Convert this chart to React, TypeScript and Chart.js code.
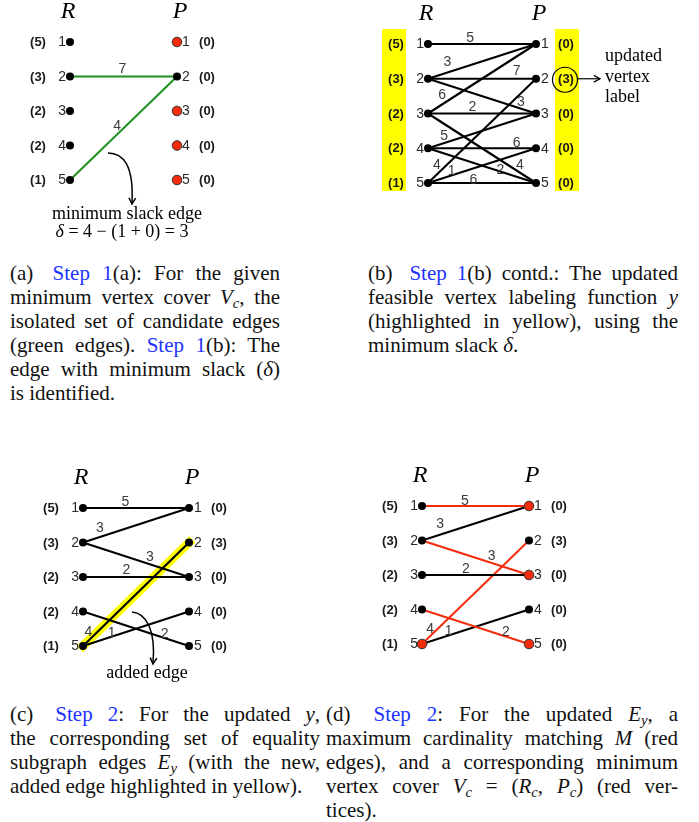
import React, { useEffect, useRef } from "react";
import { Chart, registerables } from "chart.js";

Chart.register(...registerables);

// ---------------- data ----------------
const vertexIds = [1, 2, 3, 4, 5];
const rLabels = [5, 3, 2, 2, 1];
const pLabelsInitial = [0, 0, 0, 0, 0];
const pLabelsUpdated = [0, 3, 0, 0, 0];

// edges: [R vertex, P vertex, weight]
const edgesA = [
  [2, 2, 7],
  [5, 2, 4],
];
const edgesB = [
  [1, 1, 5],
  [2, 1, 3],
  [2, 2, 7],
  [2, 3, 3],
  [3, 1, 6],
  [3, 3, 2],
  [3, 5, 4],
  [4, 3, 5],
  [4, 4, 6],
  [4, 5, 2],
  [5, 2, 4],
  [5, 4, 1],
  [5, 5, 6],
];
const edgesC = [
  [1, 1, 5],
  [2, 1, 3],
  [2, 3, 3],
  [3, 3, 2],
  [4, 5, 2],
  [5, 4, 1],
  [5, 2, 4],
];
const edgesD = [
  [1, 1, 5],
  [2, 1, 3],
  [2, 3, 3],
  [3, 3, 2],
  [4, 5, 2],
  [5, 4, 1],
  [5, 2, 4],
];
const addedEdgeC = [5, 2];
const matchingD = [
  [1, 1],
  [2, 3],
  [4, 5],
  [5, 2],
];
const coverA_R: number[] = [];
const coverA_P = [1, 3, 4, 5];
const coverD_R = [5];
const coverD_P = [1, 3, 5];

// ---------------- label placement (t along edge, dy px) ----------------
const placeA = [
  [0.49, -7],
  [0.44, -8],
];
const placeB = [
  [0.39, -6],
  [0.18, -10],
  [0.82, -8],
  [0.86, -6],
  [0.13, -9],
  [0.41, -6],
  [0.85, -7],
  [0.15, -7],
  [0.82, -5],
  [0.67, -1],
  [0.083, -9],
  [0.22, -4],
  [0.42, -3],
];
const placeC = [
  [0.4, -6],
  [0.16, -9],
  [0.63, -7],
  [0.41, -7],
  [0.77, -4],
  [0.27, -4],
  [0.05, -9],
];
const placeD = [
  [0.4, -5],
  [0.17, -10],
  [0.65, -7],
  [0.41, -6],
  [0.785, -4],
  [0.25, -4],
  [0.075, -7],
];

// ---------------- styles ----------------
const BLACK = "#000000";
const RED = "#f52c0c";
const GREEN = "#1f8f1f";
const YELLOW = "#ffff00";
const TXT = "#2a2a2a";
const SANS = "'Liberation Sans', Arial, sans-serif";
const SERIF = "'Liberation Serif', 'Times New Roman', serif";
const LINK = "#2233ff";

const panelA = {
  box: { x: 0, y: 0, w: 345, h: 245 },
  rPx: 70, pPx: 177, row1: 42, row5: 180,
  edges: edgesA, place: placeA, pLabels: pLabelsInitial,
  edgeColor: () => GREEN, edgeWidth: 2,
  redR: coverA_R, redP: coverA_P,
  curves: [{ from: [0.355, 4.217], c1: [0.495, 4.217], c2: [0.598, 4.565], to: [0.579, 5.667] }],
  texts: [
    { at: [0.533, 5.986], parts: [{ t: "minimum slack edge" }] },
    { at: [0.486, 6.507], parts: [{ t: "δ", it: true }, { t: " = 4 − (1 + 0) = 3" }] },
  ],
};
const panelB = {
  box: { x: 350, y: 0, w: 349, h: 245 },
  rPx: 428, pPx: 536, row1: 44, row5: 183,
  edges: edgesB, place: placeB, pLabels: pLabelsUpdated,
  edgeColor: () => BLACK, edgeWidth: 2.1,
  redR: [], redP: [],
  bands: [
    { side: "R", x0: -46, x1: -22, top: -15, bottom: 8 },
    { side: "P", x0: 19, x1: 43, top: -15, bottom: 8 },
  ],
  callout: { row: 2, cx: 29, cy: 1, r: 12.5, a0: 42, a1: 64, tx: 69, lines: [["updated", -18], ["vertex", 3], ["label", 23]] },
};
const panelC = {
  box: { x: 0, y: 455, w: 345, h: 235 },
  rPx: 83, pPx: 189, row1: 508, row5: 646,
  edges: edgesC, place: placeC, pLabels: pLabelsUpdated,
  edgeColor: () => BLACK, edgeWidth: 2.1,
  redR: [], redP: [],
  highlight: addedEdgeC,
  curves: [{ from: [0.462, 4.014], c1: [0.594, 4.043], c2: [0.689, 4.536], to: [0.66, 5.493] }],
  texts: [{ at: [0.604, 5.783], parts: [{ t: "added edge" }] }],
};
const panelD = {
  box: { x: 350, y: 455, w: 349, h: 235 },
  rPx: 422, pPx: 529, row1: 506, row5: 644,
  edges: edgesD, place: placeD, pLabels: pLabelsUpdated,
  edgeColor: (r: number, p: number) => (matchingD.some((m) => m[0] === r && m[1] === p) ? RED : BLACK),
  edgeWidth: 2,
  redR: coverD_R, redP: coverD_P,
};

function arrowHead(ctx: CanvasRenderingContext2D, tx: number, ty: number, fx: number, fy: number) {
  const ang = Math.atan2(ty - fy, tx - fx);
  const len = 7;
  const sp = 0.5;
  ctx.beginPath();
  ctx.moveTo(tx - len * Math.cos(ang - sp), ty - len * Math.sin(ang - sp));
  ctx.lineTo(tx, ty);
  ctx.lineTo(tx - len * Math.cos(ang + sp), ty - len * Math.sin(ang + sp));
  ctx.stroke();
}

function makeDecor(p: any) {
  return {
    id: "graphDecor",
    beforeDatasetsDraw(chart: any) {
      const ctx = chart.ctx;
      const xs = chart.scales.x;
      const ys = chart.scales.y;
      const R = xs.getPixelForValue(0);
      const P = xs.getPixelForValue(1);
      const y1 = ys.getPixelForValue(1);
      const y5 = ys.getPixelForValue(5);
      ctx.save();
      (p.bands || []).forEach((b: any) => {
        const base = b.side === "R" ? R : P;
        ctx.fillStyle = YELLOW;
        ctx.fillRect(base + b.x0, y1 + b.top, b.x1 - b.x0, y5 + b.bottom - (y1 + b.top));
      });
      ctx.restore();
    },
    afterDatasetsDraw(chart: any) {
      const ctx: CanvasRenderingContext2D = chart.ctx;
      const xs = chart.scales.x;
      const ys = chart.scales.y;
      const R = xs.getPixelForValue(0);
      const P = xs.getPixelForValue(1);
      const y1 = ys.getPixelForValue(1);
      const U = (ux: number, uy: number) => [xs.getPixelForValue(ux), ys.getPixelForValue(uy)];
      ctx.save();
      ctx.textBaseline = "middle";
      ctx.textAlign = "center";
      ctx.fillStyle = BLACK;
      // headers
      ctx.font = `italic 24px ${SERIF}`;
      ctx.fillText("R", R - 2, y1 - 30);
      ctx.fillText("P", P + 3, y1 - 30);
      // vertex ids
      ctx.font = `14px ${SANS}`;
      ctx.fillStyle = TXT;
      vertexIds.forEach((i) => {
        const y = ys.getPixelForValue(i) + 0.5;
        ctx.textAlign = "right";
        ctx.fillText(String(i), R - 4, y);
        ctx.textAlign = "left";
        ctx.fillText(String(i), P + 5, y);
      });
      // vertex labels
      ctx.font = `bold 13px ${SANS}`;
      ctx.textAlign = "center";
      ctx.fillStyle = "#1a1a1a";
      rLabels.forEach((v, k) => ctx.fillText(`(${v})`, R - 32, ys.getPixelForValue(vertexIds[k]) + 0.5));
      p.pLabels.forEach((v: number, k: number) => ctx.fillText(`(${v})`, P + 30, ys.getPixelForValue(vertexIds[k]) + 0.5));
      // edge weights
      ctx.font = `14px ${SANS}`;
      ctx.fillStyle = "#3a3a3a";
      p.edges.forEach((e: number[], k: number) => {
        const [r, q, w] = e;
        const [t, dy] = p.place[k];
        const ya = ys.getPixelForValue(r);
        const yb = ys.getPixelForValue(q);
        ctx.fillText(String(w), R + t * (P - R), ya + t * (yb - ya) + dy);
      });
      // curved arrows
      ctx.strokeStyle = BLACK;
      ctx.lineWidth = 1.5;
      (p.curves || []).forEach((c: any) => {
        const [sx, sy] = U(c.from[0], c.from[1]);
        const [ax, ay] = U(c.c1[0], c.c1[1]);
        const [bx, by] = U(c.c2[0], c.c2[1]);
        const [ex, ey] = U(c.to[0], c.to[1]);
        ctx.beginPath();
        ctx.moveTo(sx, sy);
        ctx.bezierCurveTo(ax, ay, bx, by, ex, ey);
        ctx.stroke();
        arrowHead(ctx, ex, ey + 1, bx, by);
      });
      // annotation texts
      ctx.fillStyle = BLACK;
      (p.texts || []).forEach((tx: any) => {
        const [cx, cy] = U(tx.at[0], tx.at[1]);
        const widths = tx.parts.map((pt: any) => {
          ctx.font = `${pt.it ? "italic " : ""}18px ${SERIF}`;
          return ctx.measureText(pt.t).width;
        });
        const total = widths.reduce((a: number, b: number) => a + b, 0);
        let x = cx - total / 2;
        ctx.textAlign = "left";
        tx.parts.forEach((pt: any, k: number) => {
          ctx.font = `${pt.it ? "italic " : ""}18px ${SERIF}`;
          ctx.fillText(pt.t, x, cy);
          x += widths[k];
        });
        ctx.textAlign = "center";
      });
      // callout
      if (p.callout) {
        const c = p.callout;
        const yr = ys.getPixelForValue(c.row);
        ctx.lineWidth = 1.2;
        ctx.beginPath();
        ctx.arc(P + c.cx, yr + c.cy, c.r, 0, Math.PI * 2);
        ctx.stroke();
        ctx.beginPath();
        ctx.moveTo(P + c.a0, yr);
        ctx.lineTo(P + c.a1, yr);
        ctx.stroke();
        arrowHead(ctx, P + c.a1, yr, P + c.a0, yr);
        ctx.font = `18px ${SERIF}`;
        ctx.textAlign = "left";
        ctx.textBaseline = "alphabetic";
        c.lines.forEach((ln: any) => ctx.fillText(ln[0], P + c.tx, yr + ln[1]));
      }
      ctx.restore();
    },
  };
}

function buildConfig(p: any) {
  const datasets: any[] = [];
  const vStyle = (ids: number[], red: number[]) => ({
    pointRadius: ids.map((i) => (red.includes(i) ? 4.8 : 4)),
    pointBackgroundColor: ids.map((i) => (red.includes(i) ? RED : BLACK)),
    pointBorderColor: ids.map((i) => (red.includes(i) ? "#333333" : BLACK)),
    pointBorderWidth: ids.map((i) => (red.includes(i) ? 1 : 0)),
  });
  datasets.push({
    label: "R",
    data: vertexIds.map((i) => ({ x: 0, y: i })),
    ...vStyle(vertexIds, p.redR),
    showLine: false,
    clip: false,
    order: 0,
  });
  datasets.push({
    label: "P",
    data: vertexIds.map((i) => ({ x: 1, y: i })),
    ...vStyle(vertexIds, p.redP),
    showLine: false,
    clip: false,
    order: 0,
  });
  p.edges.forEach((e: number[]) => {
    datasets.push({
      label: `e${e[0]}${e[1]}`,
      data: [
        { x: 0, y: e[0] },
        { x: 1, y: e[1] },
      ],
      showLine: true,
      borderColor: p.edgeColor(e[0], e[1]),
      borderWidth: p.edgeWidth,
      pointRadius: 0,
      fill: false,
      clip: false,
      order: 1,
    });
  });
  if (p.highlight) {
    datasets.push({
      label: "added",
      data: [
        { x: 0, y: p.highlight[0] },
        { x: 1, y: p.highlight[1] },
      ],
      showLine: true,
      borderColor: YELLOW,
      borderWidth: 9,
      borderCapStyle: "square",
      pointRadius: 0,
      fill: false,
      clip: false,
      order: 2,
    });
  }
  return {
    type: "scatter",
    data: { datasets },
    options: {
      responsive: false,
      animation: false,
      events: [],
      layout: {
        autoPadding: false,
        padding: {
          left: p.rPx - p.box.x,
          right: p.box.x + p.box.w - p.pPx,
          top: p.row1 - p.box.y,
          bottom: p.box.y + p.box.h - p.row5,
        },
      },
      scales: {
        x: { type: "linear", min: 0, max: 1, display: false },
        y: { type: "linear", min: 1, max: 5, reverse: true, display: false },
      },
      plugins: { legend: { display: false }, tooltip: { enabled: false } },
    },
    plugins: [makeDecor(p)],
  };
}

function GraphPanel({ p }: { p: any }) {
  const ref = useRef<HTMLCanvasElement>(null);
  useEffect(() => {
    if (!ref.current) return;
    const chart = new Chart(ref.current, buildConfig(p) as any);
    return () => chart.destroy();
  }, [p]);
  return (
    <canvas
      ref={ref}
      width={p.box.w}
      height={p.box.h}
      style={{ position: "absolute", left: p.box.x, top: p.box.y, width: p.box.w, height: p.box.h }}
    />
  );
}

const Sub = ({ c }: { c: string }) => (
  <sub style={{ fontStyle: "italic", fontSize: "0.7em", verticalAlign: "-0.3em", lineHeight: 0 }}>{c}</sub>
);
const Link = ({ children }: { children: any }) => <span style={{ color: LINK }}>{children}</span>;
const Tag = ({ t }: { t: string }) => <span style={{ marginRight: 7 }}>{t}</span>;

function Caption({ x, y, w, lines }: { x: number; y: number; w: number; lines: any[] }) {
  return (
    <div
      style={{
        position: "absolute",
        left: x,
        top: y,
        width: w,
        fontFamily: SERIF,
        fontSize: 21,
        lineHeight: "24px",
        color: "#111",
      }}
    >
      {lines.map((ln, k) => (
        <div
          key={k}
          style={{ textAlign: "justify", textAlignLast: k === lines.length - 1 ? "left" : "justify", height: 24 }}
        >
          {ln}
        </div>
      ))}
    </div>
  );
}

export default function App() {
  const capA = [
    <>
      <Tag t="(a)" /> <Link>Step 1</Link>(a): For the given
    </>,
    <>
      minimum vertex cover <i>V</i>
      <Sub c="c" />, the
    </>,
    <>isolated set of candidate edges</>,
    <>
      (green edges). <Link>Step 1</Link>(b): The
    </>,
    <>
      edge with minimum slack (<i>δ</i>)
    </>,
    <>is identified.</>,
  ];
  const capB = [
    <>
      <Tag t="(b)" /> <Link>Step 1</Link>(b) contd.: The updated
    </>,
    <>
      feasible vertex labeling function <i>y</i>
    </>,
    <>(highlighted in yellow), using the</>,
    <>
      minimum slack <i>δ</i>.
    </>,
  ];
  const capC = [
    <>
      <Tag t="(c)" /> <Link>Step 2</Link>: For the updated <i>y</i>,
    </>,
    <>the corresponding set of equality</>,
    <>
      subgraph edges <i>E</i>
      <Sub c="y" /> (with the new,
    </>,
    <>added edge highlighted in yellow).</>,
  ];
  const capD = [
    <>
      <Tag t="(d)" /> <Link>Step 2</Link>: For the updated <i>E</i>
      <Sub c="y" />, a
    </>,
    <>
      maximum cardinality matching <i>M</i> (red
    </>,
    <>edges), and a corresponding minimum</>,
    <>
      vertex cover <i>V</i>
      <Sub c="c" /> = (<i>R</i>
      <Sub c="c" />, <i>P</i>
      <Sub c="c" />) (red ver-
    </>,
    <>tices).</>,
  ];
  return (
    <div
      style={{
        position: "absolute",
        left: 0,
        top: 0,
        width: 699,
        height: 822,
        overflow: "hidden",
        background: "#ffffff",
      }}
    >
      <GraphPanel p={panelA} />
      <GraphPanel p={panelB} />
      <GraphPanel p={panelC} />
      <GraphPanel p={panelD} />
      <Caption x={10} y={261} w={270} lines={capA} />
      <Caption x={368} y={261} w={310} lines={capB} />
      <Caption x={10} y={702} w={310} lines={capC} />
      <Caption x={326} y={702} w={352} lines={capD} />
    </div>
  );
}
